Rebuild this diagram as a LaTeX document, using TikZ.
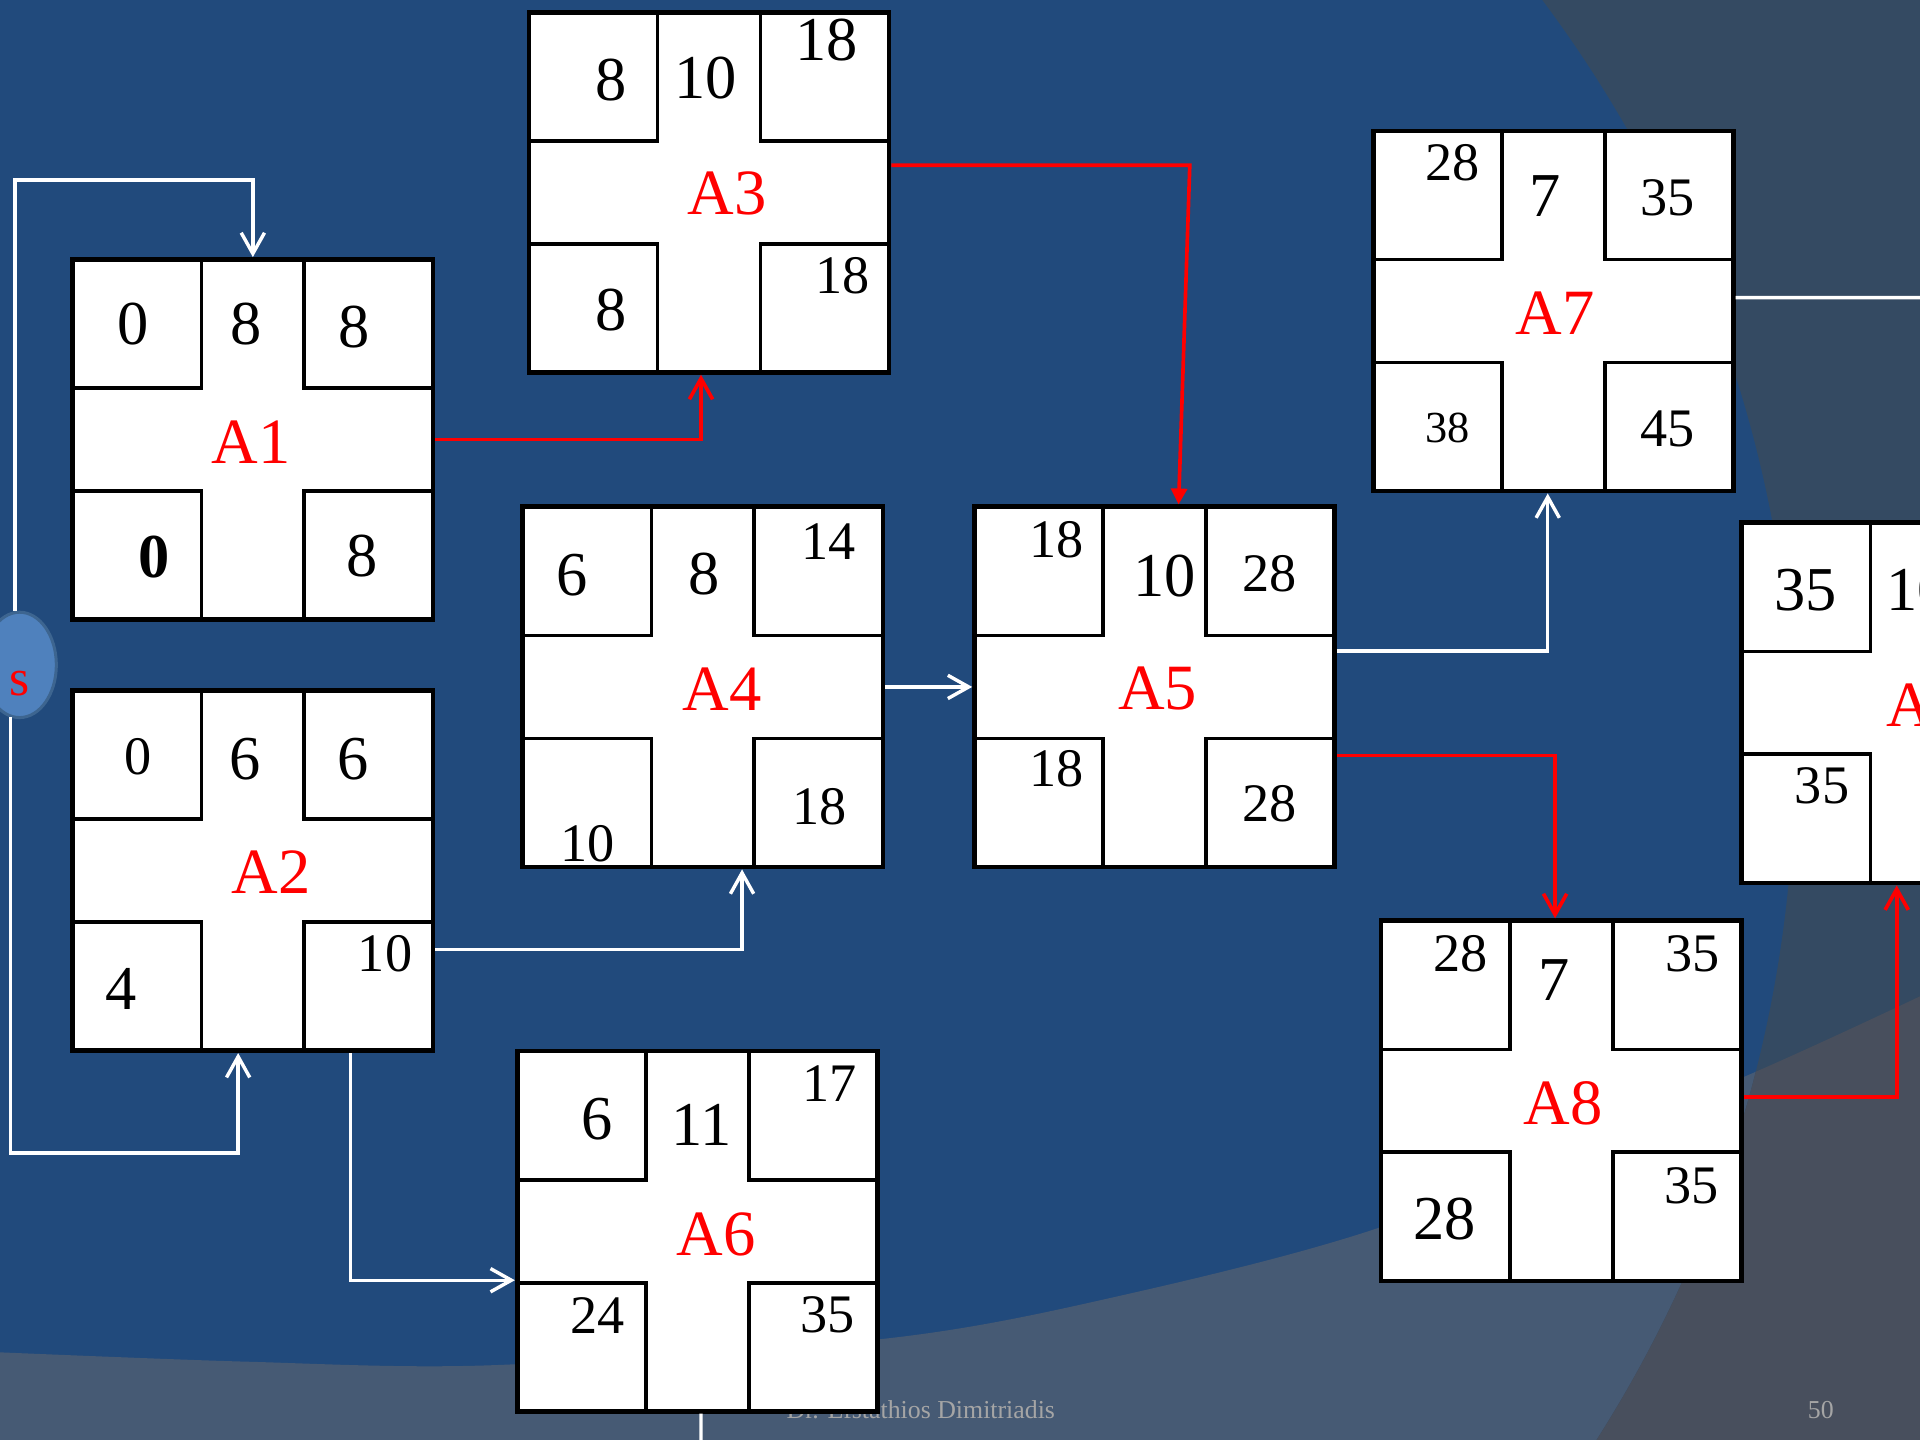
\documentclass[tikz,border=0pt]{standalone}
\usepackage{fontspec}
\setmainfont{Liberation Serif}
\usetikzlibrary{arrows.meta,shapes.geometric}

\definecolor{slideblue}{HTML}{214A7C}
\definecolor{slidegray}{HTML}{344A62}
\definecolor{slideband}{HTML}{465A74}
\definecolor{slidecorner}{HTML}{484F5D}
\definecolor{startfill}{HTML}{4F81BD}
\definecolor{startedge}{HTML}{3D6590}
\definecolor{footgray}{HTML}{A5A5A5}

% lower edge of the blue area
\newcommand{\bandedge}{plot[smooth] coordinates {(-10,1104) (200,1112) (400,1115) (716,1094) (898,1062) (1134,1000) (1423,880) (1580,808)}}

\begin{document}
\begin{tikzpicture}[
  x=0.01cm,y=-0.01cm,
  actbox/.style={draw, line width=1.1pt, fill=white, minimum width=2.94cm, minimum height=2.94cm, inner sep=0pt,
    path picture={
      \draw[line width=0.85pt]
        ([yshift=-1.05cm]path picture bounding box.north west) -| ([xshift=1.05cm]path picture bounding box.north west)
        ([yshift=-1.05cm]path picture bounding box.north east) -| ([xshift=-1.05cm]path picture bounding box.north east)
        ([yshift=1.05cm]path picture bounding box.south west) -| ([xshift=1.05cm]path picture bounding box.south west)
        ([yshift=1.05cm]path picture bounding box.south east) -| ([xshift=-1.05cm]path picture bounding box.south east);
    }},
  act/.style={text=red, font=\fontsize{15}{15}\selectfont, inner sep=0pt},
  numL/.style={font=\fontsize{14.5}{15}\selectfont, inner sep=0pt},
  numM/.style={font=\fontsize{12.6}{13}\selectfont, inner sep=0pt},
  numS/.style={font=\fontsize{10.3}{11}\selectfont, inner sep=0pt},
  startnode/.style={ellipse, draw=startedge, line width=0.7pt, fill=startfill, minimum width=0.6cm, minimum height=0.86cm, inner sep=0pt},
  foot/.style={text=footgray, font=\fontsize{6}{7}\selectfont, inner sep=0pt},
  wire/.style={draw=white, line width=0.8pt},
  crit/.style={draw=red, line width=0.85pt},
  barb/.style={-{Straight Barb[length=1.7mm,width=1.9mm]}}
]
\useasboundingbox (0,0) rectangle (1568,1176);
\clip (0,0) rectangle (1568,1176);

% slide background
\fill[slideblue] (0,0) rectangle (1568,1176);
\fill[slideband] \bandedge -- (1580,1190) -- (-10,1190) -- cycle;
\fill[slidegray, even odd rule] (-10,-10) rectangle (1580,1190) (430,620) circle[radius=10.35cm];
\begin{scope}
  \clip \bandedge -- (1580,1190) -- (-10,1190) -- cycle;
  \fill[slidecorner, even odd rule] (-10,-10) rectangle (1580,1190) (430,620) circle[radius=10.35cm];
\end{scope}
\node[foot] (author) at (752,1151) {Dr. Efstathios Dimitriadis};
\node[foot] (pageno) at (1487,1151.5) {50};

% activity boxes
\node[actbox] (a1) at (206.5,359) {};
\node[actbox] (a2) at (206.5,711) {};
\node[actbox] (a3) at (579,157) {};
\node[actbox] (a4) at (574,561) {};
\node[actbox] (a5) at (943,561) {};
\node[actbox] (a6) at (569.5,1005.5) {};
\node[actbox] (a7) at (1268.5,254) {};
\node[actbox] (a8) at (1275,899) {};
\node[actbox] (a9) at (1569.5,574) {};
\node[startnode] (s) at (16,543) {};
\node[text=red, font=\fontsize{12}{12}\selectfont, inner sep=0pt] (slbl) at (16,558) {s};

\node[act] (a1l) at (205,361.5) {A1};
\node[act] (a2l) at (221.5,712.5) {A2};
\node[act] (a3l) at (594,158) {A3};
\node[act] (a4l) at (590,563) {A4};
\node[act] (a5l) at (945.5,562.5) {A5};
\node[act] (a6l) at (585,1008) {A6};
\node[act] (a7l) at (1270,256) {A7};
\node[act] (a8l) at (1276.5,901) {A8};
\node[act] (a9l) at (1573,576) {A9};

% early start, duration, early finish, late start, late finish
\node[numL] (a1es) at (109,265) {0};
\node[numL] (a1d) at (201,265) {8};
\node[numL] (a1ef) at (289,267) {8};
\node[numL, font=\fontsize{14.5}{15}\selectfont\bfseries] (a1ls) at (126,455) {0};
\node[numL] (a1lf) at (296,454) {8};

\node[numM] (a2es) at (112.5,618) {0};
\node[numL] (a2d) at (200.5,620) {6};
\node[numL] (a2ef) at (288.5,620) {6};
\node[numL] (a2ls) at (98.5,808) {4};
\node[numM] (a2lf) at (314.5,779) {10};

\node[numL] (a3es) at (499,65) {8};
\node[numL] (a3d) at (576,64) {10};
\node[numL] (a3ef) at (675,33) {18};
\node[numL] (a3ls) at (499,253) {8};
\node[numM] (a3lf) at (688,225) {18};

\node[numL] (a4es) at (467,470) {6};
\node[numL] (a4d) at (575,469) {8};
\node[numM] (a4ef) at (677,442.5) {14};
\node[numM] (a4ls) at (480,689) {10};
\node[numM] (a4lf) at (669.5,658.5) {18};

\node[numM] (a5es) at (863,440.5) {18};
\node[numL] (a5d) at (951,470.5) {10};
\node[numM] (a5ef) at (1037,468.5) {28};
\node[numM] (a5ls) at (863,628) {18};
\node[numM] (a5lf) at (1036.5,656) {28};

\node[numL] (a6es) at (488,914) {6};
\node[numL] (a6d) at (573,919) {11};
\node[numM] (a6ef) at (677.5,885) {17};
\node[numM] (a6ls) at (488,1074) {24};
\node[numM] (a6lf) at (676,1074) {35};

\node[numM] (a7es) at (1186.5,133) {28};
\node[numL] (a7d) at (1261.5,160) {7};
\node[numM] (a7ef) at (1362,161.5) {35};
\node[numS] (a7ls) at (1182.5,349.5) {38};
\node[numM] (a7lf) at (1361.5,350) {45};

\node[numM] (a8es) at (1192.5,779) {28};
\node[numL] (a8d) at (1269.5,800) {7};
\node[numM] (a8ef) at (1382,779) {35};
\node[numL] (a8ls) at (1180,995.5) {28};
\node[numM] (a8lf) at (1381.5,968) {35};

\node[numL] (a9es) at (1474.5,482) {35};
\node[numL] (a9d) at (1566,482) {10};
\node[numM] (a9ls) at (1488,642) {35};

% links
\coordinate (a7out) at (1580,243);
\coordinate (a6out) at (572.5,1190);
\draw[wire,barb] (s.95) |- ([yshift=0.63cm]a1.north) -- (a1.north);
\draw[wire,barb] (s.-100) |- ([shift={(-0.12cm,-0.815cm)}]a2.south) -- ([xshift=-0.12cm]a2.south);
\draw[crit,barb] (a1.east) -| ([xshift=-0.065cm]a3.south);
\draw[crit,-{Triangle[length=1.3mm,width=1.3mm]}] ([yshift=0.22cm]a3.east) -- ++(2.435cm,0) -- ([xshift=0.195cm]a5.north);
\draw[wire,barb] ([yshift=-0.645cm]a2.east) -| ([xshift=0.32cm]a4.south);
\draw[wire,barb] ([xshift=0.795cm]a2.south) |- ([yshift=-0.40cm]a6.west);
\draw[wire,barb] (a4.east) -- (a5.west);
\draw[wire,barb] ([yshift=0.295cm]a5.east) -| ([xshift=-0.045cm]a7.south);
\draw[crit,barb] ([yshift=-0.56cm]a5.east) -| ([xshift=-0.05cm]a8.north);
\draw[crit,barb] ([yshift=0.03cm]a8.east) -| ([xshift=-0.205cm]a9.south);
\draw[wire] ([yshift=0.11cm]a7.east) -- (a7out);
\draw[wire] ([xshift=0.03cm]a6.south) -- (a6out);
\end{tikzpicture}
\end{document}
